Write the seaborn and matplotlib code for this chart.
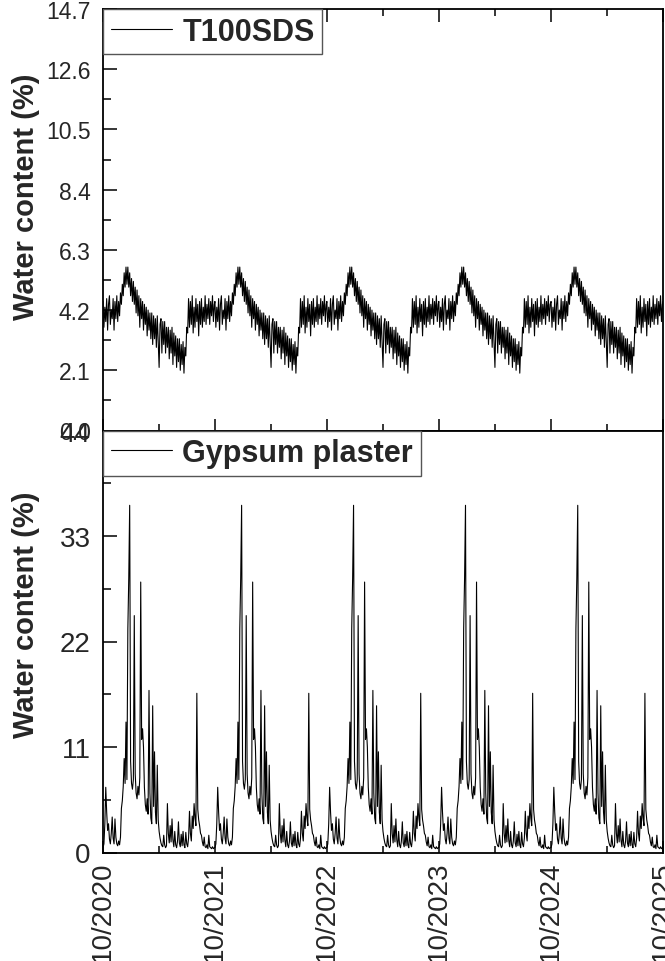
import numpy as np
import pandas as pd
import matplotlib
matplotlib.use("Agg")
import matplotlib.pyplot as plt
import matplotlib.dates as mdates
from matplotlib.ticker import MultipleLocator, FixedLocator
import seaborn as sns

# ---------------- data (one simulated year, sampled every 3 days from 1 Oct) ----------------
years = [2020, 2021, 2022, 2023, 2024]
step_days = 3

t100_year = [
    4.5, 3.6, 4.3, 3.8, 4.6, 3.5, 4.4, 4.7, 3.7, 4.2,
    3.9, 4.6, 3.5, 4.5, 3.9, 4.7, 3.8, 4.5,
    4.0, 4.8, 4.4, 5.1, 4.7, 5.5, 5.0,
    5.7, 5.1, 5.7, 5.0,
    5.5, 4.7, 5.3, 4.5, 5.2,
    4.4, 5.0, 4.1, 4.9, 4.0, 4.7, 3.6, 4.6, 3.9, 4.5, 3.5,
    4.4, 3.7, 4.3, 3.3, 4.2, 3.5, 4.1, 3.2, 4.1, 3.0, 4.0,
    3.2, 3.9, 2.9, 4.0, 3.1, 2.2, 3.7, 3.9, 2.7, 3.8, 3.0, 3.8, 2.7, 3.6, 2.9,
    3.6, 2.5, 3.5, 2.7, 3.6, 2.3, 3.4, 2.6, 3.3, 2.2, 3.2,
    2.4, 3.2, 2.1, 3.0, 2.3, 3.1, 2.0, 2.9,
    2.6, 3.6, 3.4, 4.6, 3.6,
    4.5, 3.7, 4.7, 3.4, 4.3, 3.6, 4.6, 3.8, 4.4, 3.3,
    4.5, 3.7, 4.6, 3.6, 4.3, 3.8, 4.7, 3.7, 4.4, 3.9,
    4.6, 3.7, 4.5, 4.0, 4.7, 3.8, 4.4,
]

gypsum_year = [
    0.5, 0.9, 3.0, 6.8, 4.2, 2.3, 3.0, 1.4, 0.9, 2.0,
    3.7, 1.5, 0.9, 3.5, 1.6, 0.9, 0.7, 1.2, 0.8, 1.6,
    4.6, 5.4, 6.9, 9.8, 7.2, 13.6, 7.6, 23.3, 28.6, 36.2,
    9.5, 7.2, 6.6, 7.6, 24.7, 8.2, 6.2, 5.6, 6.9, 6.0,
    7.8, 28.2, 11.8, 12.9, 11.0, 6.8, 5.0, 4.3, 5.6, 4.0,
    16.9, 6.2, 3.6, 3.0, 15.3, 4.8, 10.5, 4.2, 3.0, 9.1,
    3.4, 2.2, 1.5, 1.0, 0.7, 0.6, 1.8, 0.8, 0.5, 0.7,
    5.1, 2.0, 1.0, 2.8, 1.1, 3.5, 1.3, 0.6, 2.2, 0.8,
    0.5, 1.2, 3.2, 1.0, 0.6, 1.9, 0.7, 2.2, 0.8, 0.5,
    2.1, 0.9, 0.6, 1.5, 4.3, 2.0, 1.2, 3.8, 2.5, 5.1,
    3.6, 2.8, 16.6, 4.5, 3.4, 2.8, 2.0, 1.8, 1.1, 0.7,
    1.6, 0.6, 0.5, 0.8, 0.4, 1.8, 0.6, 0.5, 0.4, 0.6,
    0.4, 0.5,
]

series_names = ["T100SDS", "Gypsum plaster"]
x_tick_labels = ["10/2020", "10/2021", "10/2022", "10/2023", "10/2024", "10/2025"]
top_ticks = [0.0, 2.1, 4.2, 6.3, 8.4, 10.5, 12.6, 14.7]
bottom_ticks = [0, 11, 22, 33, 44]

# ---------------- build the table ----------------
dates, t100, gyp = [], [], []
for y in years:
    start = pd.Timestamp(year=y, month=10, day=1)
    for k in range(len(t100_year)):
        dates.append(start + pd.Timedelta(days=step_days * k))
    t100 += t100_year
    gyp += gypsum_year
dates.append(pd.Timestamp(year=2025, month=10, day=1))
t100.append(t100_year[0])
gyp.append(gypsum_year[0])
df = pd.DataFrame({"date": dates, series_names[0]: t100, series_names[1]: gyp})

# ---------------- style ----------------
sns.set_theme(style="ticks")
plt.rcParams['font.family'] = ['Liberation Sans', 'DejaVu Sans']
plt.rcParams['axes.linewidth'] = 1.3
plt.rcParams['axes.edgecolor'] = 'black'

fig = plt.figure(figsize=(6.65, 9.62), dpi=100)
W, H = 665, 962
L, R = 103, 663
ax1 = fig.add_axes([L / W, 1 - 431.5 / H, (R - L) / W, (431.5 - 10) / H])
ax2 = fig.add_axes([L / W, 1 - 853.5 / H, (R - L) / W, (853.5 - 431.5) / H], sharex=ax1)

sns.lineplot(data=df, x="date", y=series_names[0], ax=ax1, color="black",
             linewidth=0.8, label=series_names[0])
sns.lineplot(data=df, x="date", y=series_names[1], ax=ax2, color="black",
             linewidth=0.8, label=series_names[1])

xmin = pd.Timestamp(2020, 10, 1)
xmax = pd.Timestamp(2025, 10, 1)
ax1.set_xlim(xmin, xmax)
ax1.set_ylim(0, 14.7)
ax2.set_ylim(0, 44)

major_dates = [pd.Timestamp(2020 + i, 10, 1) for i in range(6)]
minor_dates = [pd.Timestamp(2021 + i, 4, 1) for i in range(5)]
for ax in (ax1, ax2):
    ax.xaxis.set_major_locator(FixedLocator(mdates.date2num(major_dates)))
    ax.xaxis.set_minor_locator(FixedLocator(mdates.date2num(minor_dates)))

ax1.yaxis.set_major_locator(FixedLocator(top_ticks))
ax1.yaxis.set_minor_locator(MultipleLocator(1.05))
ax1.set_yticklabels([f"{v:.1f}" for v in top_ticks])
ax2.yaxis.set_major_locator(FixedLocator(bottom_ticks))
ax2.yaxis.set_minor_locator(MultipleLocator(5.5))
ax2.set_yticklabels([str(v) for v in bottom_ticks])

ax1.tick_params(axis="x", which="both", direction="in", top=True, bottom=True,
                labelbottom=False, width=1.3)
ax1.tick_params(axis="x", which="major", length=9)
ax1.tick_params(axis="x", which="minor", length=5)
ax2.tick_params(axis="x", which="both", direction="in", top=False, bottom=True, width=1.3)
ax2.tick_params(axis="x", which="major", length=9, labelsize=20, pad=6, labelrotation=90)
ax2.tick_params(axis="x", which="minor", length=5)
ax2.set_xticklabels(x_tick_labels)

for ax, ls in ((ax1, 16.5), (ax2, 20)):
    ax.tick_params(axis="y", which="both", direction="in", left=True, right=False, width=1.3)
    ax.tick_params(axis="y", which="major", length=10, labelsize=ls, pad=9)
    ax.tick_params(axis="y", which="minor", length=5.5)
    ax.set_xlabel("")
    ax.set_ylabel("Water content (%)", fontsize=21, fontweight="bold")
    for sp in ax.spines.values():
        sp.set_visible(True)
        sp.set_linewidth(1.3)
        sp.set_color("black")
    leg = ax.legend(loc="upper left", borderaxespad=0, fancybox=False,
                    edgecolor="#555555", framealpha=1,
                    prop={"weight": "bold", "size": 22},
                    handlelength=2.0, handletextpad=0.35, borderpad=0.25)
    leg.get_frame().set_linewidth(1.0)
    for h in leg.get_lines():
        h.set_linewidth(0.8)

ax1.yaxis.set_label_coords(-0.113, 0.558)
ax2.yaxis.set_label_coords(-0.113, 0.566)

fig.savefig("out.png", dpi=100)
